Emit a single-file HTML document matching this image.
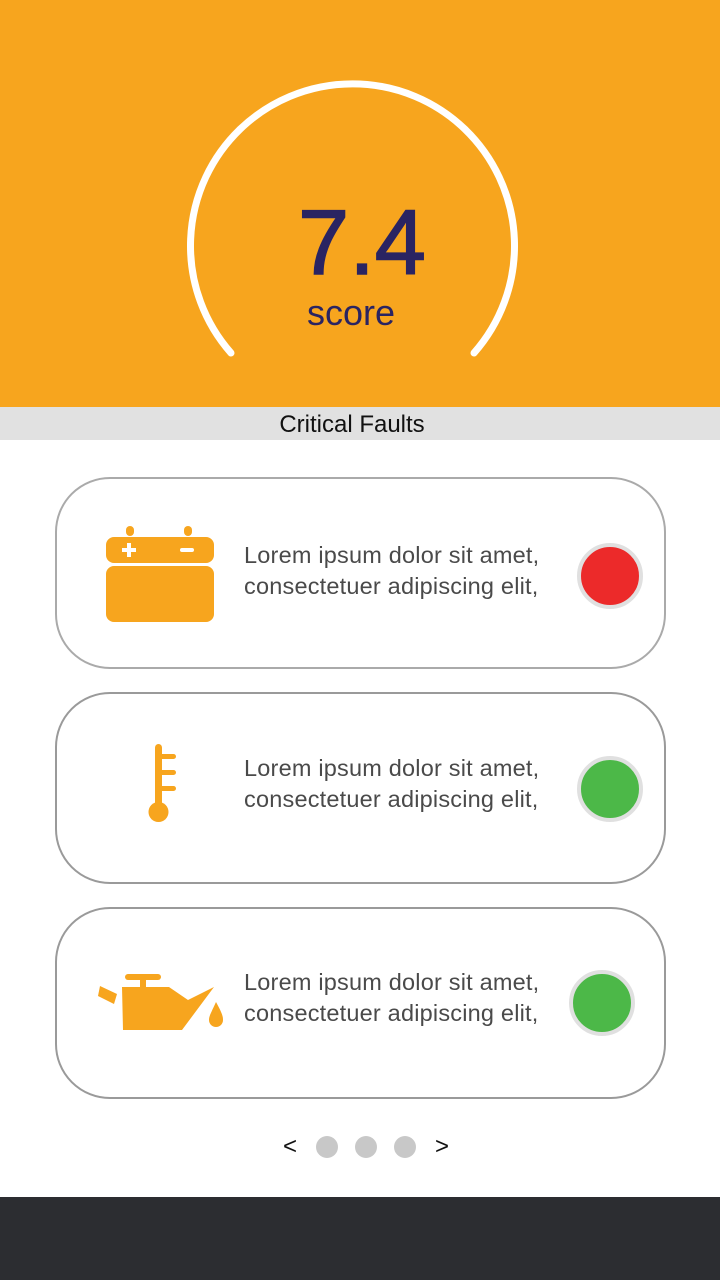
<!DOCTYPE html>
<html><head><meta charset="utf-8"><style>
body{margin:0;width:720px;height:1280px;position:relative;background:#fff;font-family:"Liberation Sans",sans-serif;overflow:hidden}
.abs{position:absolute}
.card{position:absolute;left:55px;width:607px;height:188px;border:2.5px solid #9a9a9a;border-radius:55px;box-sizing:content-box}
.txt{position:absolute;left:187px;top:61px;font-size:23.5px;line-height:31px;color:#4a4a4a;white-space:nowrap;letter-spacing:0.2px}
.dot{position:absolute;width:58px;height:58px;border-radius:50%;border:4px solid #e0e0e0}
</style></head><body>
<div class="abs" style="left:0;top:0;width:720px;height:407px;background:#f7a51e"></div>
<svg class="abs" style="left:0;top:0" width="720" height="407">
<path d="M231 353 A162 162 0 1 1 474 353" fill="none" stroke="#fff" stroke-width="7" stroke-linecap="round"/>
<text x="362" y="274" text-anchor="middle" font-size="92" fill="#2a2462" stroke="#2a2462" stroke-width="1.5" font-family="Liberation Sans">7.4</text>
<text x="351" y="325" text-anchor="middle" font-size="36" fill="#2a2462" font-family="Liberation Sans">score</text>
</svg>
<div class="abs" style="left:0;top:407px;width:720px;height:33px;background:#e1e1e1;text-align:center;font-size:24px;line-height:35px;color:#111"><span style="position:relative;left:-8px">Critical Faults</span></div>

<div class="card" style="top:477px;border-color:#aaa">
<svg class="abs" style="left:47px;top:45px" width="112" height="100">
<rect x="22" y="2" width="8" height="10" rx="4" fill="#f7a51e"/><rect x="80" y="2" width="8" height="10" rx="4" fill="#f7a51e"/>
<rect x="2" y="13" width="108" height="26" rx="8" fill="#f7a51e"/><rect x="2" y="42" width="108" height="56" rx="8" fill="#f7a51e"/>
<rect x="18" y="24" width="14" height="4" fill="#fff"/><rect x="23" y="19" width="4" height="14" fill="#fff"/><rect x="76" y="24" width="14" height="4" rx="2" fill="#fff"/>
</svg>
<div class="txt">Lorem ipsum dolor sit amet,<br>consectetuer adipiscing elit,</div>
<div class="dot" style="left:520px;top:64px;background:#ec2a2a"></div>
</div>

<div class="card" style="top:692px">
<svg class="abs" style="left:80px;top:48px" width="40" height="85">
<rect x="18" y="2" width="7" height="70" rx="3.5" fill="#f7a51e"/><circle cx="21.5" cy="70" r="10" fill="#f7a51e"/>
<rect x="20" y="12" width="19" height="5" rx="2.5" fill="#f7a51e"/><rect x="20" y="28" width="19" height="5" rx="2.5" fill="#f7a51e"/><rect x="20" y="44" width="19" height="5" rx="2.5" fill="#f7a51e"/>
</svg>
<div class="txt" style="top:59px">Lorem ipsum dolor sit amet,<br>consectetuer adipiscing elit,</div>
<div class="dot" style="left:520px;top:62px;background:#4cb848"></div>
</div>

<div class="card" style="top:907px">
<svg class="abs" style="left:40px;top:62px" width="130" height="70">
<rect x="28" y="3" width="36" height="6" rx="3" fill="#f7a51e"/><rect x="43" y="8" width="6" height="8" fill="#f7a51e"/>
<polygon points="3,15 20,23 17,33 1,25" fill="#f7a51e"/>
<polygon points="25,16 72,16 91,29 117,16 85,59 26,59" fill="#f7a51e"/>
<path d="M119 31 C125 42 126 45 126 49 A7 7 0 0 1 112 49 C112 45 114 42 119 31Z" fill="#f7a51e"/>
</svg>
<div class="txt" style="top:58px">Lorem ipsum dolor sit amet,<br>consectetuer adipiscing elit,</div>
<div class="dot" style="left:512px;top:61px;background:#4cb848"></div>
</div>

<div class="abs" style="left:283px;top:1133px;font-size:24px;color:#111">&lt;</div>
<div class="abs" style="left:316px;top:1136px;width:22px;height:22px;border-radius:50%;background:#c8c8c8"></div>
<div class="abs" style="left:355px;top:1136px;width:22px;height:22px;border-radius:50%;background:#c8c8c8"></div>
<div class="abs" style="left:394px;top:1136px;width:22px;height:22px;border-radius:50%;background:#c8c8c8"></div>
<div class="abs" style="left:435px;top:1133px;font-size:24px;color:#111">&gt;</div>
<div class="abs" style="left:0;top:1197px;width:720px;height:83px;background:#2c2d31"></div>
</body></html>
